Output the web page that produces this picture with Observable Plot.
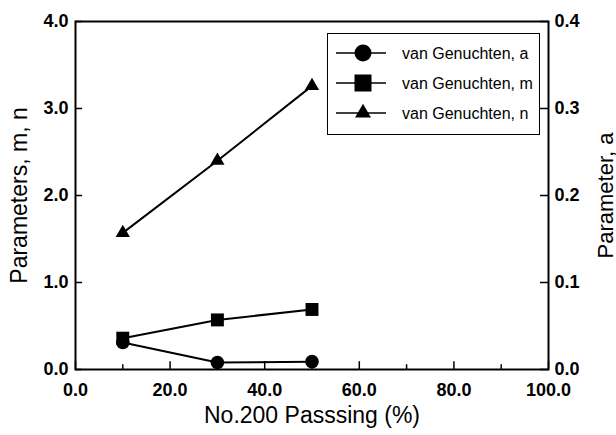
<!DOCTYPE html>
<html>
<head>
<meta charset="utf-8">
<script src="https://cdn.jsdelivr.net/npm/d3@7"></script>
<script src="https://cdn.jsdelivr.net/npm/@observablehq/plot@0.6"></script>
<style>
  html, body { margin: 0; padding: 0; background: #fff; }
  #wrap { position: relative; width: 616px; height: 435px; font-family: "Liberation Sans", Arial, sans-serif; }
  #legend { position: absolute; left: 327px; top: 33px; width: 211px; height: 100px; border: 1.5px solid #000; background: #fff; }
  #wrap svg g[aria-label$="tick label"] text { font-weight: bold; }
</style>
</head>
<body>
<div id="wrap"><div id="legend"></div></div>
<script>
// Data
const passing = [10, 30, 50];               // No.200 passing (%)
const vgA = [0.031, 0.008, 0.009];          // van Genuchten a (right axis)
const vgM = [0.36, 0.57, 0.69];             // van Genuchten m
const vgN = [1.57, 2.40, 3.26];             // van Genuchten n

const xTicks = [0, 20, 40, 60, 80, 100];
const xMinor = [10, 30, 50, 70, 90];
const yTicks = [0, 1, 2, 3, 4];
const aTicks = [0, 0.1, 0.2, 0.3, 0.4];
const aScale = 10; // right axis 0–0.4 maps onto left axis 0–4

const seriesNames = ["van Genuchten, a", "van Genuchten, m", "van Genuchten, n"];
const titles = { x: "No.200 Passsing (%)", yLeft: "Parameters, m, n", yRight: "Parameter, a" };

const rows = passing.map((p, i) => ({p, a: vgA[i] * aScale, m: vgM[i], n: vgN[i]}));

const font = "Liberation Sans, Arial, sans-serif";
const tickFont = {fontSize: 18, fontWeight: "bold"};

const chart = Plot.plot({
  width: 616,
  height: 435,
  marginLeft: 75,
  marginRight: 68,
  marginTop: 21,
  marginBottom: 66,
  style: {fontFamily: font, color: "#000", background: "transparent", overflow: "visible"},
  x: {domain: [0, 100]},
  y: {domain: [0, 4]},
  marks: [
    Plot.frame({stroke: "#000", strokeWidth: 2}),
    // inward ticks
    Plot.ruleX(xTicks, {x: d => d, y1: 0, y2: 0.09, stroke: "#000", strokeWidth: 1.5}),
    Plot.ruleX(xMinor, {x: d => d, y1: 0, y2: 0.055, stroke: "#000", strokeWidth: 1.5}),
    Plot.ruleY(yTicks, {y: d => d, x1: 0, x2: 1.5, stroke: "#000", strokeWidth: 1.5}),
    Plot.ruleY(aTicks.map(d => d * aScale), {y: d => d, x1: 98.3, x2: 100, stroke: "#000", strokeWidth: 1.5}),
    // axes labels
    Plot.axisX(xTicks, {tickSize: 0, tickPadding: 14, tickFormat: d => d.toFixed(1), label: null, ...tickFont}),
    Plot.axisY(yTicks, {anchor: "left", tickSize: 0, tickPadding: 7, tickFormat: d => d.toFixed(1), label: null, ...tickFont}),
    Plot.axisY(aTicks.map(d => d * aScale), {anchor: "right", tickSize: 0, tickPadding: 6, tickFormat: d => (d / aScale).toFixed(1), label: null, ...tickFont}),
    // titles
    Plot.text([titles.x], {text: d => d, frameAnchor: "bottom", dy: 53, fontSize: 23, textAnchor: "middle"}),
    Plot.text([titles.yLeft], {text: d => d, frameAnchor: "left", dx: -56, rotate: -90, fontSize: 23, textAnchor: "middle"}),
    Plot.text([titles.yRight], {text: d => d, frameAnchor: "right", dx: 57, rotate: -90, fontSize: 22, textAnchor: "middle"}),
    // series
    Plot.line(rows, {x: "p", y: "n", stroke: "#000", strokeWidth: 2}),
    Plot.line(rows, {x: "p", y: "m", stroke: "#000", strokeWidth: 2}),
    Plot.line(rows, {x: "p", y: "a", stroke: "#000", strokeWidth: 2}),
    Plot.dot(rows, {x: "p", y: "a", symbol: "circle", r: 6.8, fill: "#000"}),
    Plot.dot(rows, {x: "p", y: "m", symbol: "square", r: 7.3, fill: "#000"}),
    Plot.dot(rows, {x: "p", y: "n", symbol: "triangle", r: 5.3, fill: "#000"})
  ]
});
document.getElementById("wrap").prepend(chart);

// Legend
const symbols = [d3.symbolCircle, d3.symbolSquare, d3.symbolTriangle];
const symSizes = [Math.PI * 8.5 * 8.5, 17 * 17, 110];
const lg = d3.select("#legend").append("svg").attr("width", 211).attr("height", 100)
  .style("font-family", font);
seriesNames.forEach((name, i) => {
  const y = 19 + i * 30;
  const g = lg.append("g").attr("transform", `translate(0,${y})`);
  g.append("line").attr("x1", 8).attr("x2", 58).attr("stroke", "#000").attr("stroke-width", 1.5);
  g.append("path").attr("d", d3.symbol(symbols[i], symSizes[i])()).attr("transform", "translate(35,0)").attr("fill", "#000");
  g.append("text").attr("x", 74).attr("dy", "0.35em").attr("font-size", 16).text(name);
});
</script>
</body>
</html>
